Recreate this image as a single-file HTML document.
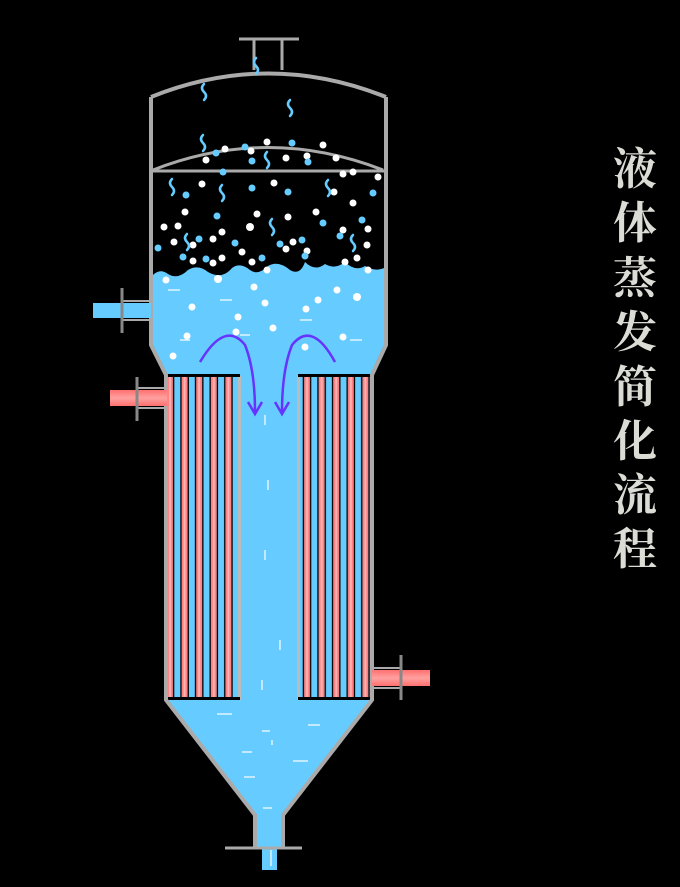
<!DOCTYPE html>
<html><head><meta charset="utf-8"><style>
html,body{margin:0;padding:0;background:#000;width:680px;height:887px;overflow:hidden}
svg{display:block}
.t{font-family:"Liberation Serif","Noto Serif CJK SC",serif;font-size:44px;fill:#dcdcd6;text-anchor:middle;font-weight:bold}
</style></head><body>
<svg width="680" height="887" viewBox="0 0 680 887" xmlns="http://www.w3.org/2000/svg">
<defs>
<linearGradient id="steel" x1="0" y1="0" x2="1" y2="0">
<stop offset="0" stop-color="#777"/><stop offset="0.5" stop-color="#eee"/><stop offset="1" stop-color="#888"/></linearGradient>
<linearGradient id="pinkg" x1="0" y1="0" x2="0" y2="1">
<stop offset="0" stop-color="#ff7070"/><stop offset="0.5" stop-color="#ffa0a0"/><stop offset="1" stop-color="#ff7070"/></linearGradient>
<pattern id="tubes" x="167" y="0" width="14.6" height="10" patternUnits="userSpaceOnUse">
<rect x="0" y="0" width="14.6" height="10" fill="#66ccff"/>
<rect x="0" y="0" width="6" height="10" fill="#ff8080"/>
<rect x="2" y="0" width="2" height="10" fill="#ffb0b0"/>
<rect x="6" y="0" width="1.3" height="10" fill="#000"/>
<rect x="13.3" y="0" width="1.3" height="10" fill="#000"/>
</pattern>
<pattern id="tubes2" x="298" y="0" width="14.6" height="10" patternUnits="userSpaceOnUse">
<rect x="0" y="0" width="14.6" height="10" fill="#66ccff"/>
<rect x="6" y="0" width="6" height="10" fill="#ff8080"/>
<rect x="8" y="0" width="2" height="10" fill="#ffb0b0"/>
<rect x="4.7" y="0" width="1.3" height="10" fill="#000"/>
<rect x="12" y="0" width="1.3" height="10" fill="#000"/>
</pattern>
</defs>

<!-- liquid upper -->
<path d="M153 275 Q160 268 168 274 Q178 280 188 270 Q198 264 208 272 Q222 280 232 268 Q240 262 250 270 Q258 276 268 266 Q278 260 290 270 Q300 276 305 262 Q315 272 325 264 Q335 270 345 262 Q355 272 365 266 Q375 272 384 268 L384 345 L370 375 L168 375 L153 345 Z" fill="#66ccff"/>
<!-- central channel + cone -->
<rect x="240" y="375" width="58" height="326" fill="#66ccff"/>
<path d="M167 700 L372 700 L283 815 L283 848 L255 848 L255 815 Z" fill="#66ccff"/>
<rect x="262" y="846" width="15" height="24" fill="#66ccff"/>
<!-- tube bundles -->
<rect x="167" y="376" width="73" height="324" fill="url(#tubes)"/>
<rect x="298" y="376" width="74" height="324" fill="url(#tubes2)"/>
<rect x="238" y="376" width="3" height="324" fill="#bbb"/>
<rect x="297" y="376" width="3" height="324" fill="#bbb"/>
<rect x="167" y="374" width="73" height="3" fill="#000"/>
<rect x="298" y="374" width="74" height="3" fill="#000"/>
<rect x="167" y="697" width="73" height="3" fill="#000"/>
<rect x="298" y="697" width="74" height="3" fill="#000"/>

<!-- shell -->
<g fill="none" stroke="#aaa" stroke-width="4">
<path d="M151 97 Q268 50 386 97"/>
<path d="M151 97 L151 345 L166 375 L166 700 L255 815 L255 848"/>
<path d="M386 97 L386 345 L372 375 L372 700 L283 815 L283 848"/>
</g>
<path d="M153 170 Q268 125 383 170" fill="none" stroke="#aaa" stroke-width="3"/>
<line x1="153" y1="171" x2="384" y2="171" stroke="#aaa" stroke-width="3"/>
<!-- top nozzle -->
<line x1="239" y1="39" x2="299" y2="39" stroke="#aaa" stroke-width="3"/>
<line x1="254" y1="39" x2="254" y2="70" stroke="#aaa" stroke-width="3"/>
<line x1="282" y1="39" x2="282" y2="70" stroke="#aaa" stroke-width="3"/>
<!-- bottom flange -->
<line x1="225" y1="848" x2="302" y2="848" stroke="#aaa" stroke-width="3"/>

<!-- pipes -->
<rect x="93" y="303" width="58" height="15" fill="#66ccff"/>
<line x1="122" y1="301" x2="151" y2="301" stroke="#aaa" stroke-width="2"/>
<line x1="122" y1="320" x2="151" y2="320" stroke="#aaa" stroke-width="2"/>
<line x1="122" y1="288" x2="122" y2="333" stroke="#888" stroke-width="3"/>
<rect x="110" y="390" width="57" height="16" fill="url(#pinkg)"/>
<line x1="137" y1="388" x2="166" y2="388" stroke="#aaa" stroke-width="2"/>
<line x1="137" y1="408" x2="166" y2="408" stroke="#aaa" stroke-width="2"/>
<line x1="137" y1="377" x2="137" y2="421" stroke="#888" stroke-width="3"/>
<rect x="372" y="670" width="58" height="16" fill="url(#pinkg)"/>
<line x1="372" y1="668" x2="401" y2="668" stroke="#aaa" stroke-width="2"/>
<line x1="372" y1="688" x2="401" y2="688" stroke="#aaa" stroke-width="2"/>
<line x1="401" y1="655" x2="401" y2="700" stroke="#888" stroke-width="3"/>

<!-- dashes -->
<g stroke="#fff" stroke-width="1.2">
<line x1="168" y1="290" x2="180" y2="290"/><line x1="220" y1="300" x2="232" y2="300"/><line x1="240" y1="335" x2="250" y2="335"/>
<line x1="300" y1="320" x2="312" y2="320"/><line x1="350" y1="340" x2="362" y2="340"/><line x1="180" y1="340" x2="190" y2="340"/>
<line x1="265" y1="415" x2="265" y2="425"/><line x1="268" y1="480" x2="268" y2="490"/><line x1="265" y1="550" x2="265" y2="560"/>
<line x1="280" y1="640" x2="280" y2="650"/><line x1="262" y1="680" x2="262" y2="690"/><line x1="217" y1="714" x2="232" y2="714"/>
<line x1="262" y1="731" x2="270" y2="731"/><line x1="308" y1="725" x2="320" y2="725"/><line x1="242" y1="752" x2="252" y2="752"/>
<line x1="293" y1="761" x2="308" y2="761"/><line x1="244" y1="777" x2="255" y2="777"/><line x1="263" y1="808" x2="272" y2="808"/>
<line x1="272" y1="745" x2="272" y2="740"/><line x1="271" y1="850" x2="271" y2="866"/>
</g>

<!-- arrows -->
<g fill="none" stroke="#6633ff" stroke-width="2.5">
<path d="M200 362 Q225 320 245 345 Q255 370 255 412"/>
<path d="M248 402 L255 414 L262 402"/>
<path d="M335 362 Q312 320 292 345 Q282 370 282 412"/>
<path d="M275 402 L282 414 L289 402"/>
</g>

<!-- dots -->
<g fill="#fff">
<circle cx="225" cy="149" r="3.5"/><circle cx="251" cy="151" r="3.5"/><circle cx="267" cy="142" r="3.5"/><circle cx="323" cy="145" r="3.5"/>
<circle cx="206" cy="160" r="3.5"/><circle cx="286" cy="158" r="3.5"/><circle cx="307" cy="156" r="3.5"/><circle cx="336" cy="158" r="3.5"/>
<circle cx="343" cy="174" r="3.5"/><circle cx="353" cy="172" r="3.5"/><circle cx="378" cy="177" r="3.5"/><circle cx="202" cy="184" r="3.5"/>
<circle cx="274" cy="183" r="3.5"/><circle cx="334" cy="192" r="3.5"/><circle cx="353" cy="203" r="3.5"/><circle cx="185" cy="212" r="3.5"/>
<circle cx="257" cy="214" r="3.5"/><circle cx="288" cy="217" r="3.5"/><circle cx="316" cy="212" r="3.5"/><circle cx="164" cy="227" r="3.5"/>
<circle cx="178" cy="226" r="3.5"/><circle cx="250" cy="227" r="4"/><circle cx="222" cy="232" r="3.5"/><circle cx="343" cy="230" r="3.5"/>
<circle cx="368" cy="229" r="3.5"/><circle cx="174" cy="242" r="3.5"/><circle cx="213" cy="239" r="3.5"/><circle cx="193" cy="245" r="3.5"/>
<circle cx="293" cy="242" r="3.5"/><circle cx="286" cy="249" r="3.5"/><circle cx="367" cy="245" r="3.5"/><circle cx="242" cy="252" r="3.5"/>
<circle cx="307" cy="251" r="3.5"/><circle cx="193" cy="261" r="3.5"/><circle cx="213" cy="263" r="3.5"/><circle cx="222" cy="258" r="3.5"/>
<circle cx="252" cy="262" r="3.5"/><circle cx="357" cy="258" r="3.5"/><circle cx="345" cy="262" r="3.5"/><circle cx="368" cy="270" r="3.5"/>
<circle cx="267" cy="270" r="3.5"/><circle cx="166" cy="280" r="3.5"/><circle cx="218" cy="279" r="4"/><circle cx="254" cy="287" r="3.5"/>
<circle cx="192" cy="307" r="3.5"/><circle cx="238" cy="317" r="3.5"/><circle cx="265" cy="303" r="3.5"/><circle cx="318" cy="300" r="3.5"/>
<circle cx="337" cy="290" r="3.5"/><circle cx="357" cy="297" r="4"/><circle cx="306" cy="309" r="3.5"/><circle cx="273" cy="328" r="3.5"/>
<circle cx="187" cy="336" r="3.5"/><circle cx="173" cy="356" r="3.5"/><circle cx="343" cy="337" r="3.5"/><circle cx="305" cy="347" r="3.5"/>
<circle cx="236" cy="332" r="3.5"/>
</g>
<g fill="#66ccff">
<circle cx="216" cy="153" r="3.5"/><circle cx="245" cy="147" r="3.5"/><circle cx="292" cy="143" r="3.5"/><circle cx="252" cy="161" r="3.5"/>
<circle cx="308" cy="162" r="3.5"/><circle cx="223" cy="172" r="3.5"/><circle cx="186" cy="195" r="3.5"/><circle cx="252" cy="188" r="3.5"/>
<circle cx="288" cy="192" r="3.5"/><circle cx="373" cy="193" r="3.5"/><circle cx="217" cy="216" r="3.5"/><circle cx="323" cy="223" r="3.5"/>
<circle cx="362" cy="220" r="3.5"/><circle cx="199" cy="239" r="3.5"/><circle cx="235" cy="243" r="3.5"/><circle cx="302" cy="240" r="3.5"/>
<circle cx="340" cy="236" r="3.5"/><circle cx="158" cy="248" r="3.5"/><circle cx="183" cy="257" r="3.5"/><circle cx="206" cy="259" r="3.5"/>
<circle cx="262" cy="258" r="3.5"/><circle cx="280" cy="244" r="3.5"/><circle cx="305" cy="256" r="3.5"/>
</g>
<g fill="none" stroke="#66ccff" stroke-width="2.5" stroke-linecap="round">
<path d="M203 135 q-4 4 0 8 q4 4 0 8"/><path d="M267 152 q-4 4 0 8 q4 4 0 8"/><path d="M172 179 q-4 4 0 8 q4 4 0 8"/>
<path d="M222 185 q-4 4 0 8 q4 4 0 8"/><path d="M328 180 q-4 4 0 8 q4 4 0 8"/><path d="M272 219 q-4 4 0 8 q4 4 0 8"/>
<path d="M187 234 q-4 4 0 8 q4 4 0 8"/><path d="M353 235 q-4 4 0 8 q4 4 0 8"/><path d="M204 84 q-4 4 0 8 q4 4 0 8"/>
<path d="M290 100 q-4 4 0 8 q4 4 0 8"/><path d="M256 58 q-4 4 0 8 q4 4 0 8"/>
</g>

<!-- title -->
<text class="t" x="635" y="184">液</text>
<text class="t" x="635" y="238">体</text>
<text class="t" x="635" y="293">蒸</text>
<text class="t" x="635" y="347">发</text>
<text class="t" x="635" y="402">简</text>
<text class="t" x="635" y="456">化</text>
<text class="t" x="635" y="510">流</text>
<text class="t" x="635" y="564">程</text>
</svg>
</body></html>
